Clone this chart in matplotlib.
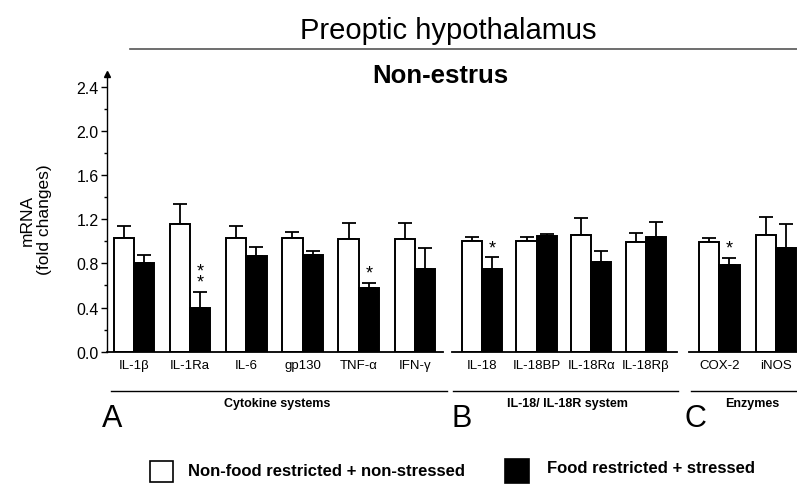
import matplotlib
matplotlib.use("Agg")
import matplotlib.pyplot as plt

plt.rcParams["font.family"] = ["Liberation Sans", "DejaVu Sans"]

# panel A: cytokine systems
cyto_labels = ["IL-1\u03b2", "IL-1Ra", "IL-6", "gp130", "TNF-\u03b1", "IFN-\u03b3"]
cyto_ctrl = [1.03, 1.16, 1.03, 1.03, 1.02, 1.02]
cyto_ctrl_err = [0.11, 0.18, 0.11, 0.05, 0.15, 0.15]
cyto_stress = [0.80, 0.40, 0.87, 0.88, 0.58, 0.75]
cyto_stress_err = [0.08, 0.14, 0.08, 0.035, 0.045, 0.19]
cyto_stars = ["", "*\n*", "", "", "*", ""]

# panel B: IL-18 / IL-18R system
il18_labels = ["IL-18", "IL-18BP", "IL-18R\u03b1", "IL-18R\u03b2"]
il18_ctrl = [1.00, 1.006, 1.057, 0.994]
il18_ctrl_err = [0.04, 0.03, 0.15, 0.085]
il18_stress = [0.75, 1.048, 0.812, 1.042]
il18_stress_err = [0.105, 0.018, 0.097, 0.136]
il18_stars = ["*", "", "", ""]

# panel C: enzymes
enz_labels = ["COX-2", "iNOS"]
enz_ctrl = [0.994, 1.057]
enz_ctrl_err = [0.04, 0.16]
enz_stress = [0.782, 0.942]
enz_stress_err = [0.067, 0.218]
enz_stars = ["*", ""]

W, H = 797, 485
y0_px, ytop_px = 352.7, 74.5
ymax = 2.52

fig = plt.figure(figsize=(W / 100, H / 100), dpi=100)


def fx(x):
    return x / W


def fy(y):
    return 1 - y / H


def px_axes(x_left, x_right):
    return fig.add_axes([x_left / W, 1 - y0_px / H,
                         (x_right - x_left) / W, (y0_px - ytop_px) / H])


def draw_panel(ax, labels, ctrl, ctrl_err, stress, stress_err, stars, xlim, bw):
    xs = list(range(len(labels)))
    xc = [x - bw / 2 for x in xs]
    xb = [x + bw / 2 for x in xs]
    ax.bar(xc, ctrl, width=bw, color="white", edgecolor="black", linewidth=1.4, zorder=2)
    ax.bar(xb, stress, width=bw, color="black", edgecolor="black", linewidth=1.4, zorder=2)
    ax.errorbar(xc, ctrl, yerr=[[0] * len(ctrl), ctrl_err], fmt="none",
                ecolor="black", elinewidth=1.3, capsize=5, capthick=1.3, zorder=1)
    ax.errorbar(xb, stress, yerr=[[0] * len(stress), stress_err], fmt="none",
                ecolor="black", elinewidth=1.3, capsize=5, capthick=1.3, zorder=1)
    for x, v, e, s in zip(xb, stress, stress_err, stars):
        if s:
            ax.text(x, v + e + 0.01, s, ha="center", va="bottom", fontsize=13,
                    linespacing=0.55)
    ax.set_xlim(*xlim)
    ax.set_ylim(0, ymax)
    ax.set_xticks(xs)
    ax.set_xticklabels(labels, fontsize=9.5)
    ax.tick_params(axis="x", length=0, pad=5)
    for sp in ["top", "right"]:
        ax.spines[sp].set_visible(False)
    ax.spines["bottom"].set_linewidth(1.3)
    ax.patch.set_alpha(0)


axA = px_axes(107, 443)
draw_panel(axA, cyto_labels, cyto_ctrl, cyto_ctrl_err, cyto_stress, cyto_stress_err,
           cyto_stars, (-0.48, 5.5), 0.36)
axA.set_yticks([0.0, 0.4, 0.8, 1.2, 1.6, 2.0, 2.4])
axA.set_yticklabels(["0.0", "0.4", "0.8", "1.2", "1.6", "2.0", "2.4"], fontsize=11.5)
axA.set_yticks([0.2, 0.6, 1.0, 1.4, 1.8, 2.2], minor=True)
axA.tick_params(axis="y", which="major", length=4, width=1, pad=2)
axA.tick_params(axis="y", which="minor", length=2.5, width=1)
axA.spines["left"].set_linewidth(1.0)
axA.plot(0, 1, "^k", markersize=4, transform=axA.transAxes, clip_on=False)

axB = px_axes(452, 677)
draw_panel(axB, il18_labels, il18_ctrl, il18_ctrl_err, il18_stress, il18_stress_err,
           il18_stars, (-0.55, 3.57), 0.37)
axB.spines["left"].set_visible(False)
axB.set_yticks([])

axC = px_axes(689, 797)
draw_panel(axC, enz_labels, enz_ctrl, enz_ctrl_err, enz_stress, enz_stress_err,
           enz_stars, (-0.53, 1.37), 0.36)
axC.spines["left"].set_visible(False)
axC.set_yticks([])

# y label
fig.text(fx(36), fy(220), "mRNA\n(fold changes)", fontsize=12.5, rotation=90,
         ha="center", va="center", multialignment="center")

# titles
fig.text(fx(448), fy(31), "Preoptic hypothalamus", fontsize=21, ha="center", va="center")
fig.add_artist(plt.Line2D([fx(130), fx(797)], [fy(50), fy(50)], color="#555555", lw=1.2))
fig.text(fx(440), fy(76), "Non-estrus", fontsize=18.5, fontweight="bold",
         ha="center", va="center")

# group lines, names and panel letters
for x1, x2, name, cx, letter, lx in [
    (111, 447, "Cytokine systems", 277, "A", 102),
    (453, 678, "IL-18/ IL-18R system", 567, "B", 452),
    (691, 797, "Enzymes", 752, "C", 684),
]:
    fig.add_artist(plt.Line2D([fx(x1), fx(x2)], [fy(392), fy(392)], color="black", lw=1.0))
    fig.text(fx(cx), fy(404), name, fontsize=9, fontweight="bold", ha="center", va="center")
    fig.text(fx(lx), fy(419), letter, fontsize=22, ha="left", va="center")

# legend
fig.add_artist(plt.Rectangle((fx(150), fy(483)), 23 / W, 21 / H, facecolor="white",
                             edgecolor="black", lw=1.2))
fig.text(fx(188), fy(472), "Non-food restricted + non-stressed", fontsize=12,
         fontweight="bold", ha="left", va="center")
fig.add_artist(plt.Rectangle((fx(505), fy(484)), 24 / W, 24 / H, facecolor="black",
                             edgecolor="black", lw=1.2))
fig.text(fx(547), fy(469), "Food restricted + stressed", fontsize=12,
         fontweight="bold", ha="left", va="center")

fig.savefig("out.png", dpi=100)
